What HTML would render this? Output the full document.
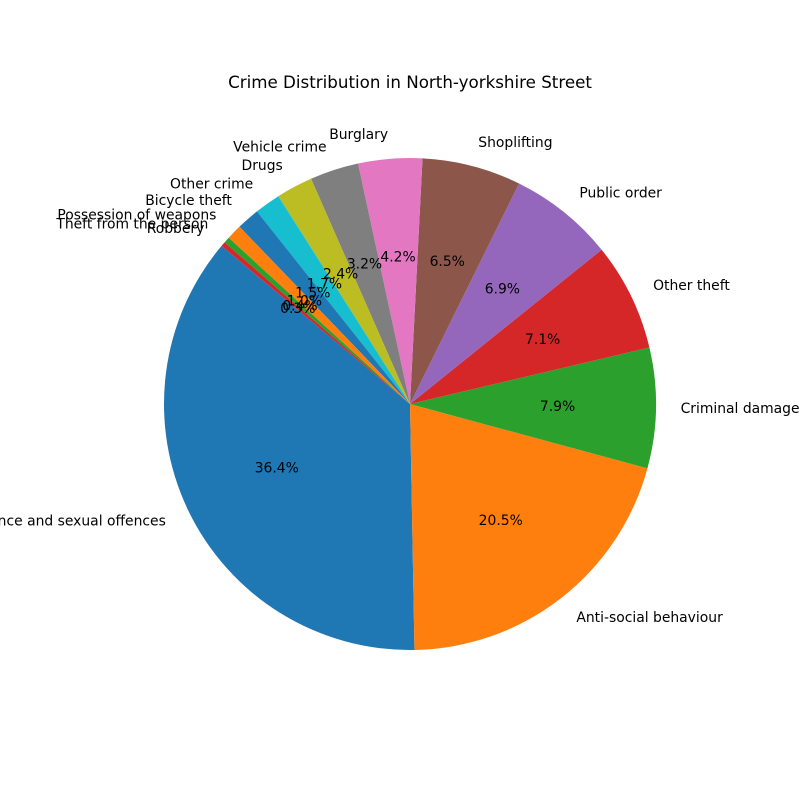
<!DOCTYPE html>
<html><head><meta charset="utf-8"><style>
body{margin:0;background:#fff}
svg{display:block;font-family:"DejaVu Sans","Liberation Sans",sans-serif}
</style></head><body>
<svg id="chart" width="800" height="800" viewBox="0 0 800 800">
<rect width="800" height="800" fill="#fff"/>
<text x="410" y="88" text-anchor="middle" font-size="16.7" fill="#000">Crime Distribution in North-yorkshire Street</text>
<g id="slices"></g>
<g id="labels"></g>
</svg>
<script>
const categories = ["Violence and sexual offences","Anti-social behaviour","Criminal damage and arson","Other theft","Public order","Shoplifting","Burglary","Vehicle crime","Drugs","Other crime","Bicycle theft","Possession of weapons","Theft from the person","Robbery"];
const values = [36.4,20.5,7.9,7.1,6.9,6.5,4.2,3.2,2.4,1.7,1.5,1.0,0.4,0.3];
const colors = ["#1f77b4","#ff7f0e","#2ca02c","#d62728","#9467bd","#8c564b","#e377c2","#7f7f7f","#bcbd22","#17becf"];
const cx=410, cy=404, R=246, startAngle=140;
const NS="http://www.w3.org/2000/svg";
const gS=document.getElementById('slices'), gL=document.getElementById('labels');
const total=values.reduce((a,b)=>a+b,0);
function pt(deg,r){const a=deg*Math.PI/180;return [cx+r*Math.cos(a), cy-r*Math.sin(a)];}
let ang=startAngle;
values.forEach((v,i)=>{
  const sweep=v/total*360, a0=ang, a1=ang+sweep, mid=(a0+a1)/2;
  const p0=pt(a0,R), p1=pt(a1,R);
  const path=document.createElementNS(NS,'path');
  path.setAttribute('d',`M${cx},${cy} L${p0[0]},${p0[1]} A${R},${R} 0 ${sweep>180?1:0} 0 ${p1[0]},${p1[1]} Z`);
  path.setAttribute('fill',colors[i%colors.length]);
  
  
  gS.appendChild(path);
  const lp=pt(mid,R*1.1);
  const t=document.createElementNS(NS,'text');
  t.setAttribute('x',lp[0]);t.setAttribute('y',lp[1]+4.8);
  t.setAttribute('font-size','13.9');
  t.setAttribute('text-anchor',lp[0]>=cx?'start':'end');
  t.textContent=categories[i];
  
  
  gL.appendChild(t);
  const pp=pt(mid,R*0.6);
  const q=document.createElementNS(NS,'text');
  q.setAttribute('x',pp[0]);q.setAttribute('y',pp[1]+4.8);
  q.setAttribute('font-size','13.9');q.setAttribute('text-anchor','middle');
  q.textContent=(v/total*100).toFixed(1)+'%';
  
  
  gL.appendChild(q);
  ang=a1;
});
</script>
</body></html>
